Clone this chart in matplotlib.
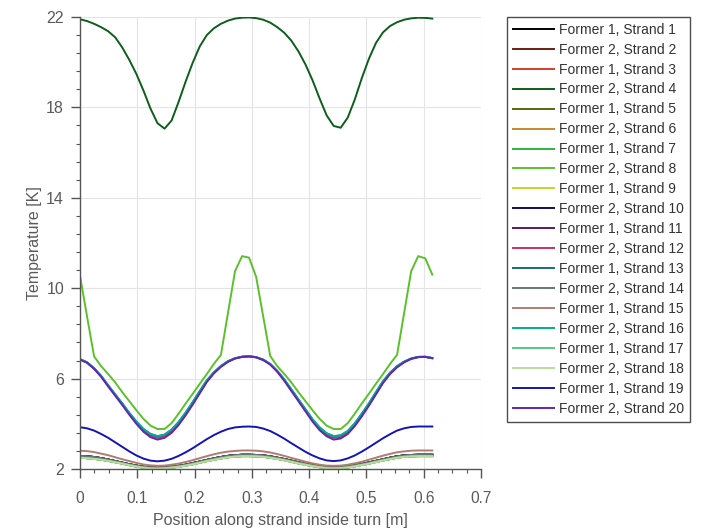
import matplotlib
matplotlib.use("Agg")
import matplotlib.pyplot as plt
from matplotlib.ticker import FixedLocator

plt.rcParams['font.family'] = ['Liberation Sans', 'DejaVu Sans']

# Sample positions along the strand [m]
position = [0.0, 0.0123, 0.0246, 0.0369, 0.0492, 0.0615, 0.0738, 0.0861, 0.0984, 0.1107,
            0.123, 0.1353, 0.1476, 0.1599, 0.1722, 0.1845, 0.1968, 0.2091, 0.2214, 0.2337,
            0.246, 0.2583, 0.2706, 0.2829, 0.2952, 0.3075, 0.3198, 0.3321, 0.3444, 0.3567,
            0.369, 0.3813, 0.3936, 0.4059, 0.4182, 0.4305, 0.4428, 0.4551, 0.4674, 0.4797,
            0.492, 0.5043, 0.5166, 0.5289, 0.5412, 0.5535, 0.5658, 0.5781, 0.5904, 0.6027,
            0.615]

# Temperature profiles [K]
t_warm = [21.9, 21.82, 21.7, 21.55, 21.37, 21.1, 20.65, 20.1, 19.48, 18.75,
          17.95, 17.3, 17.06, 17.42, 18.25, 19.15, 19.98, 20.7, 21.2, 21.5,
          21.7, 21.84, 21.93, 21.97, 21.98, 21.95, 21.88, 21.75, 21.55, 21.3,
          20.95, 20.48, 19.9, 19.2, 18.4, 17.65, 17.18, 17.1, 17.55, 18.35,
          19.3, 20.15, 20.85, 21.32, 21.6, 21.77, 21.88, 21.94, 21.97, 21.96,
          21.93]

t_peak = [10.55, 8.75, 6.98, 6.55, 6.2, 5.83, 5.4, 5.0, 4.6, 4.22,
          3.92, 3.77, 3.77, 4.03, 4.45, 4.9, 5.33, 5.77, 6.2, 6.65,
          7.05, 8.9, 10.75, 11.42, 11.35, 10.5, 8.75, 7.0, 6.55, 6.2,
          5.83, 5.4, 5.0, 4.6, 4.22, 3.92, 3.77, 3.77, 4.03, 4.45,
          4.9, 5.33, 5.77, 6.2, 6.65, 7.05, 8.9, 10.75, 11.42, 11.32,
          10.6]

t_mid_hi = [6.86, 6.72, 6.46, 6.12, 5.7, 5.3, 4.9, 4.48, 4.1, 3.77,
            3.55, 3.45, 3.52, 3.74, 4.08, 4.5, 4.96, 5.45, 5.92, 6.28,
            6.56, 6.77, 6.9, 6.97, 6.99, 6.95, 6.84, 6.65, 6.34, 5.96,
            5.52, 5.08, 4.64, 4.2, 3.84, 3.58, 3.45, 3.49, 3.68, 4.02,
            4.45, 4.9, 5.4, 5.88, 6.26, 6.55, 6.75, 6.89, 6.96, 6.97,
            6.91]

t_mid_md = [6.85, 6.71, 6.45, 6.1, 5.68, 5.27, 4.87, 4.44, 4.05, 3.71,
            3.48, 3.38, 3.45, 3.67, 4.02, 4.44, 4.9, 5.4, 5.88, 6.25,
            6.54, 6.75, 6.89, 6.96, 6.98, 6.94, 6.83, 6.63, 6.32, 5.93,
            5.48, 5.04, 4.6, 4.15, 3.78, 3.52, 3.38, 3.42, 3.62, 3.96,
            4.39, 4.85, 5.35, 5.84, 6.23, 6.52, 6.73, 6.88, 6.95, 6.96,
            6.9]

t_mid_lo = [6.84, 6.7, 6.43, 6.08, 5.65, 5.24, 4.83, 4.4, 4.0, 3.65,
            3.41, 3.3, 3.38, 3.6, 3.95, 4.38, 4.85, 5.35, 5.85, 6.23,
            6.52, 6.74, 6.89, 6.96, 6.98, 6.94, 6.82, 6.62, 6.3, 5.9,
            5.45, 5.0, 4.55, 4.1, 3.72, 3.45, 3.3, 3.35, 3.55, 3.9,
            4.33, 4.8, 5.3, 5.8, 6.2, 6.5, 6.72, 6.87, 6.95, 6.96,
            6.9]

t_blue = [3.85, 3.8, 3.7, 3.55, 3.38, 3.18, 2.98, 2.78, 2.6, 2.46,
          2.37, 2.34, 2.37, 2.45, 2.58, 2.74, 2.92, 3.12, 3.32, 3.5,
          3.65, 3.77, 3.84, 3.87, 3.88, 3.86, 3.79, 3.68, 3.52, 3.34,
          3.14, 2.95, 2.76, 2.6, 2.47, 2.38, 2.35, 2.38, 2.47, 2.6,
          2.77, 2.96, 3.16, 3.36, 3.54, 3.7, 3.8, 3.86, 3.88, 3.88,
          3.88]

t_rose = [2.81, 2.79, 2.75, 2.68, 2.61, 2.52, 2.43, 2.35, 2.27, 2.2,
          2.16, 2.14, 2.15, 2.19, 2.24, 2.31, 2.39, 2.48, 2.57, 2.65,
          2.72, 2.77, 2.8, 2.82, 2.82, 2.81, 2.78, 2.73, 2.66, 2.58,
          2.49, 2.41, 2.32, 2.25, 2.19, 2.15, 2.14, 2.15, 2.19, 2.25,
          2.32, 2.41, 2.5, 2.59, 2.67, 2.74, 2.78, 2.81, 2.82, 2.82,
          2.82]

t_low = [2.58, 2.56, 2.53, 2.48, 2.42, 2.35, 2.28, 2.21, 2.15, 2.1,
         2.07, 2.06, 2.07, 2.1, 2.14, 2.19, 2.26, 2.33, 2.4, 2.47,
         2.53, 2.58, 2.61, 2.63, 2.63, 2.62, 2.6, 2.56, 2.5, 2.44,
         2.37, 2.3, 2.23, 2.17, 2.12, 2.08, 2.07, 2.08, 2.11, 2.16,
         2.22, 2.29, 2.36, 2.43, 2.5, 2.56, 2.6, 2.62, 2.63, 2.63,
         2.63]

t_low_g = [2.5, 2.48, 2.45, 2.41, 2.36, 2.3, 2.24, 2.17, 2.11, 2.06,
           2.03, 2.02, 2.03, 2.06, 2.1, 2.15, 2.21, 2.28, 2.35, 2.41,
           2.47, 2.52, 2.55, 2.57, 2.57, 2.56, 2.54, 2.5, 2.45, 2.39,
           2.32, 2.25, 2.19, 2.13, 2.08, 2.04, 2.03, 2.04, 2.07, 2.12,
           2.18, 2.24, 2.31, 2.38, 2.44, 2.5, 2.54, 2.56, 2.57, 2.57,
           2.57]

strand_labels = [f"Former {1 if k % 2 else 2}, Strand {k}" for k in range(1, 21)]

strand_profiles = [t_low, t_low, t_low, t_warm, t_low_g, t_low_g, t_low_g, t_peak,
                   t_low_g, t_low, t_low, t_mid_md, t_mid_hi, t_low, t_rose,
                   t_mid_hi, t_low_g, t_low_g, t_blue, t_mid_lo]

strand_colors = ['#000000', '#6b1f10', '#d0402a', '#0d5e1c', '#536b0c',
                 '#c8872c', '#2ab43e', '#5cc02c', '#bcd828', '#0c0c64',
                 '#5c1a5e', '#c8306c', '#1a6a82', '#627878', '#b07c72',
                 '#00b088', '#56c882', '#b8dc9c', '#1414b4', '#6424b8']

x_ticks = [0, 0.1, 0.2, 0.3, 0.4, 0.5, 0.6, 0.7]
x_tick_labels = ['0', '0.1', '0.2', '0.3', '0.4', '0.5', '0.6', '0.7']
y_ticks = [2, 6, 10, 14, 18, 22]

fig = plt.figure(figsize=(7.02, 5.28), dpi=100)
ax = fig.add_axes([80 / 702, 1 - 469 / 528, 401 / 702, 452 / 528])

for temps, color, label in zip(strand_profiles, strand_colors, strand_labels):
    ax.plot(position, temps, color=color, lw=1.4, label=label)

ax.set_xlim(0, 0.7)
ax.set_ylim(2, 22)
ax.set_xticks(x_ticks)
ax.set_xticklabels(x_tick_labels)
ax.set_yticks(y_ticks)
# four minor divisions per x interval, five per y interval
ax.xaxis.set_minor_locator(FixedLocator([k * 0.025 for k in range(29)]))
ax.yaxis.set_minor_locator(FixedLocator([2 + k * 0.8 for k in range(26)]))

ax.grid(True, which='major', color='#e4e4e4', lw=0.8)
ax.set_axisbelow(True)
for side in ('top', 'right'):
    ax.spines[side].set_visible(False)
for side in ('left', 'bottom'):
    ax.spines[side].set_color('#555555')
    ax.spines[side].set_linewidth(1.0)

ax.tick_params(which='major', direction='out', length=6.5, width=1.0, color='#555555',
               labelcolor='#5a5a5a', labelsize=11.5)
ax.tick_params(which='minor', direction='out', length=3.2, width=0.8, color='#555555')
ax.tick_params(axis='x', which='major', pad=9.5, labelsize=11.2)
ax.tick_params(axis='y', which='major', pad=5)

ax.set_xlabel('Position along strand inside turn [m]', fontsize=11.5, color='#5a5a5a')
ax.set_ylabel('Temperature [K]', fontsize=11.5, color='#5a5a5a')
ax.xaxis.set_label_coords(0.5, -0.098)
ax.yaxis.set_label_coords(-0.095, 0.5)

leg = fig.legend(loc='upper left', bbox_to_anchor=(507 / 702, 1 - 17 / 528),
                 bbox_transform=fig.transFigure, fontsize=10, frameon=True,
                 fancybox=False, edgecolor='#222222', borderpad=0.4,
                 handlelength=3.0, handletextpad=0.35, labelspacing=0.43,
                 borderaxespad=0)
leg.get_frame().set_linewidth(1.0)
for txt in leg.get_texts():
    txt.set_color('#333333')

fig.savefig('out.png', dpi=100)
